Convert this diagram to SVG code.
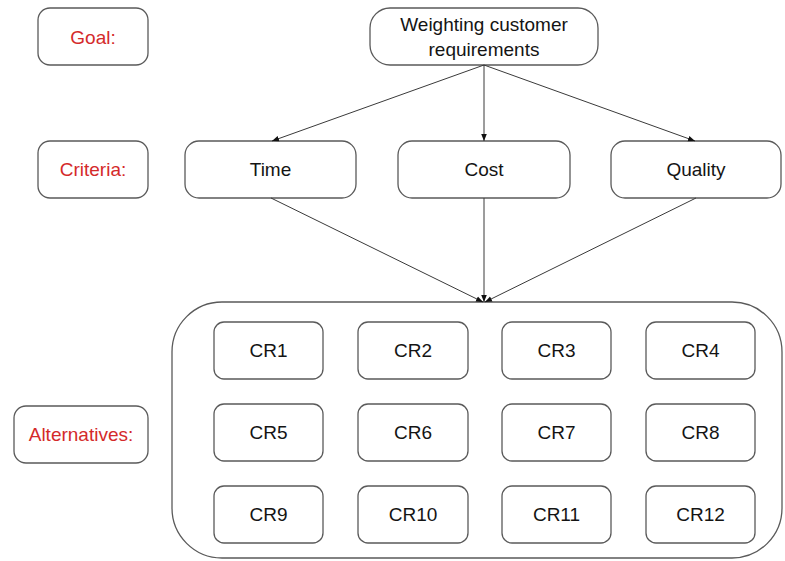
<svg xmlns="http://www.w3.org/2000/svg" width="785" height="561" viewBox="0 0 785 561">
  <style>
    .box { fill: #ffffff; stroke: #5a5a5a; stroke-width: 1.3; }
    .lbl { font-family: "Liberation Sans", Arial, sans-serif; font-size: 19px; fill: #141414; text-anchor: middle; dominant-baseline: central; }
    .lvl { fill: #d42a2a; }
    .edge { stroke: #3a3a3a; stroke-width: 1; fill: none; marker-end: url(#arrow); }
  </style>
  <defs>
    <marker id="arrow" viewBox="0 0 10 10" refX="10" refY="5" markerWidth="7" markerHeight="7" orient="auto" markerUnits="userSpaceOnUse">
      <path d="M0,1 L10,5 L0,9 z" fill="#111"/>
    </marker>
  </defs>
  <rect width="785" height="561" fill="#ffffff"/>

  <!-- level labels -->
  <g id="goal-label">
    <rect class="box" x="38" y="8" width="110" height="57" rx="12"/>
    <text class="lbl lvl" x="93" y="37">Goal:</text>
  </g>
  <g id="criteria-label">
    <rect class="box" x="38" y="141" width="110" height="57" rx="12"/>
    <text class="lbl lvl" x="93" y="169">Criteria:</text>
  </g>
  <g id="alternatives-label">
    <rect class="box" x="14" y="406" width="134" height="57" rx="12"/>
    <text class="lbl lvl" x="81" y="434">Alternatives:</text>
  </g>

  <!-- goal -->
  <g id="goal">
    <rect class="box" x="370" y="8" width="228" height="57" rx="20"/>
    <text class="lbl" x="484" y="24">Weighting customer</text>
    <text class="lbl" x="484" y="49">requirements</text>
  </g>

  <!-- criteria -->
  <g id="time">
    <rect class="box" x="185" y="141" width="171" height="57" rx="14"/>
    <text class="lbl" x="270.5" y="169">Time</text>
  </g>
  <g id="cost">
    <rect class="box" x="398" y="141" width="172" height="57" rx="14"/>
    <text class="lbl" x="484" y="169">Cost</text>
  </g>
  <g id="quality">
    <rect class="box" x="611" y="141" width="170" height="57" rx="14"/>
    <text class="lbl" x="696" y="169">Quality</text>
  </g>

  <!-- alternatives container -->
  <g id="alternatives">
    <rect class="box" x="172" y="302" width="610" height="256" rx="50"/>
  </g>

  <!-- connectors -->
  <g id="connectors">
    <line class="edge" x1="484" y1="65" x2="272" y2="141"/>
    <line class="edge" x1="484" y1="65" x2="484" y2="141"/>
    <line class="edge" x1="484" y1="65" x2="695" y2="141"/>
    <line class="edge" x1="271" y1="198" x2="483" y2="302"/>
    <line class="edge" x1="484" y1="198" x2="484" y2="302"/>
    <line class="edge" x1="696" y1="198" x2="485" y2="302"/>
  </g>

  <!-- alternatives grid -->
  <g id="cr1"><rect class="box" x="214" y="322" width="109" height="57" rx="10"/><text class="lbl" x="268.5" y="350">CR1</text></g>
  <g id="cr2"><rect class="box" x="358" y="322" width="110" height="57" rx="10"/><text class="lbl" x="413" y="350">CR2</text></g>
  <g id="cr3"><rect class="box" x="502" y="322" width="109" height="57" rx="10"/><text class="lbl" x="556.5" y="350">CR3</text></g>
  <g id="cr4"><rect class="box" x="646" y="322" width="109" height="57" rx="10"/><text class="lbl" x="700.5" y="350">CR4</text></g>

  <g id="cr5"><rect class="box" x="214" y="404" width="109" height="57" rx="10"/><text class="lbl" x="268.5" y="432">CR5</text></g>
  <g id="cr6"><rect class="box" x="358" y="404" width="110" height="57" rx="10"/><text class="lbl" x="413" y="432">CR6</text></g>
  <g id="cr7"><rect class="box" x="502" y="404" width="109" height="57" rx="10"/><text class="lbl" x="556.5" y="432">CR7</text></g>
  <g id="cr8"><rect class="box" x="646" y="404" width="109" height="57" rx="10"/><text class="lbl" x="700.5" y="432">CR8</text></g>

  <g id="cr9"><rect class="box" x="214" y="486" width="109" height="57" rx="10"/><text class="lbl" x="268.5" y="514">CR9</text></g>
  <g id="cr10"><rect class="box" x="358" y="486" width="110" height="57" rx="10"/><text class="lbl" x="413" y="514">CR10</text></g>
  <g id="cr11"><rect class="box" x="502" y="486" width="109" height="57" rx="10"/><text class="lbl" x="556.5" y="514">CR11</text></g>
  <g id="cr12"><rect class="box" x="646" y="486" width="109" height="57" rx="10"/><text class="lbl" x="700.5" y="514">CR12</text></g>
</svg>
